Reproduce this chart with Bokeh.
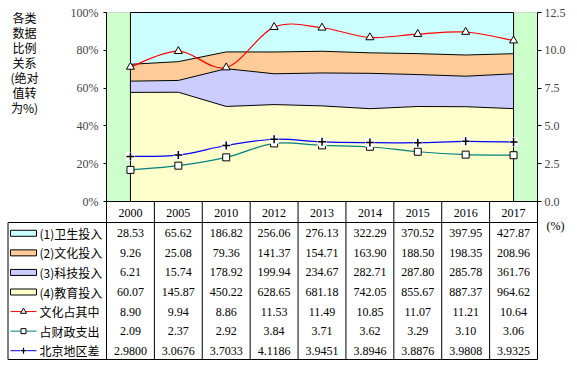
from bokeh.plotting import figure
from bokeh.models import Range1d, LinearAxis, FixedTicker, ColumnDataSource, BoxAnnotation, PrintfTickFormatter
from bokeh.core.properties import value
from bokeh.embed import file_html
from bokeh.resources import INLINE

# ---------------- data ----------------
years = ["2000", "2005", "2010", "2012", "2013", "2014", "2015", "2016", "2017"]
health = [28.53, 65.62, 186.82, 256.06, 276.13, 322.29, 370.52, 397.95, 427.87]
culture = [9.26, 25.08, 79.36, 141.37, 154.71, 163.90, 188.50, 198.35, 208.96]
tech = [6.21, 15.74, 178.92, 199.94, 234.67, 282.71, 287.80, 285.78, 361.76]
edu = [60.07, 145.87, 450.22, 628.65, 681.18, 742.05, 855.67, 887.37, 964.62]
culture_share = [8.90, 9.94, 8.86, 11.53, 11.49, 10.85, 11.07, 11.21, 10.64]
fiscal_share = [2.09, 2.37, 2.92, 3.84, 3.71, 3.62, 3.29, 3.10, 3.06]
beijing_gap = [2.9800, 3.0676, 3.7033, 4.1186, 3.9451, 3.8946, 3.8876, 3.9808, 3.9325]
left_ticks = [0, 20, 40, 60, 80, 100]
right_ticks = [0, 2.5, 5.0, 7.5, 10.0, 12.5]
row_names = ["(1)卫生投入", "(2)文化投入", "(3)科技投入", "(4)教育投入",
             "文化占其中", "占财政支出", "北京地区差"]
y_title = ["各类", "数据", "比例", "关系", "(绝对", "值转", "为%)"]
right_unit = "(%)"

# ---------------- styles / layout (canvas px) ----------------
W, H = 569, 360
PLOT_L, PLOT_R = 106, 537
PLOT_T, PLOT_B = 12, 201
CW = (PLOT_R - PLOT_L) / 9.0
PY = (PLOT_B - PLOT_T) / 100.0
n = len(years)

def xd(px):
    return -0.5 + (px - PLOT_L) / CW

def yd(py):
    return (PLOT_B - py) / PY

x0, x1 = xd(0), xd(W)
y0, y1 = yd(H), yd(0)

SERIF = "Liberation Serif"
CJK = "Noto Sans CJK SC"
area_colors = ["#FFFFCC", "#CCCCFF", "#FFCC99", "#CCFFFF"]   # edu, tech, culture, health
row_fill = ["#CCFFFF", "#FFCC99", "#CCCCFF", "#FFFFCC"]
line_colors = ["#FF0000", "#008080", "#0000FF"]

p = figure(width=W, height=H, x_range=Range1d(x0, x1), y_range=Range1d(y0, y1),
           output_backend="svg", toolbar_location=None,
           x_axis_type=None, y_axis_type=None, min_border=0,
           outline_line_color=None)
p.extra_y_ranges = {"r": Range1d(y0 / 8.0, y1 / 8.0)}

# plot area background
p.add_layout(BoxAnnotation(left=-0.5, right=n - 0.5, bottom=0, top=100,
                           fill_color="#CCFFCC", fill_alpha=1.0,
                           line_color="#808080", line_width=1, level="underlay"))

# ---------------- stacked 100% areas ----------------
xs = list(range(n))
tot = [a + b + c + d for a, b, c, d in zip(health, culture, tech, edu)]
src = ColumnDataSource(dict(
    x=xs,
    edu=[v / t * 100 for v, t in zip(edu, tot)],
    tech=[v / t * 100 for v, t in zip(tech, tot)],
    cult=[v / t * 100 for v, t in zip(culture, tot)],
    health=[v / t * 100 for v, t in zip(health, tot)],
))
stackers = ["edu", "tech", "cult", "health"]
p.varea_stack(stackers, x="x", color=area_colors, source=src)
p.vline_stack(stackers, x="x", color="black", line_width=1, source=src)
p.segment(x0=[xs[0], xs[-1]], y0=[0, 0], x1=[xs[0], xs[-1]], y1=[100, 100],
          line_color="black", line_width=1)

# ---------------- smoothed lines (secondary axis) ----------------
def bez(ys):
    P = list(zip(xs, ys))
    out = dict(x0=[], y0=[], x1=[], y1=[], cx0=[], cy0=[], cx1=[], cy1=[])
    for i in range(len(P) - 1):
        pm = P[i - 1] if i > 0 else P[i]
        pa, pb = P[i], P[i + 1]
        pn = P[i + 2] if i + 2 < len(P) else P[i + 1]
        out["x0"].append(pa[0]); out["y0"].append(pa[1])
        out["x1"].append(pb[0]); out["y1"].append(pb[1])
        out["cx0"].append(pa[0] + (pb[0] - pm[0]) / 6.0)
        out["cy0"].append(pa[1] + (pb[1] - pm[1]) / 6.0)
        out["cx1"].append(pb[0] - (pn[0] - pa[0]) / 6.0)
        out["cy1"].append(pb[1] - (pn[1] - pa[1]) / 6.0)
    return out

for ys, col in zip([culture_share, fiscal_share, beijing_gap], line_colors):
    p.bezier(source=ColumnDataSource(bez(ys)), x0="x0", y0="y0", x1="x1", y1="y1",
             cx0="cx0", cy0="cy0", cx1="cx1", cy1="cy1",
             line_color=col, line_width=1.2, y_range_name="r")

p.scatter(xs, culture_share, marker="triangle", size=8, fill_color="white",
          line_color="black", line_width=1, y_range_name="r")
p.scatter(xs, fiscal_share, marker="square", size=7, fill_color="white",
          line_color="black", line_width=1, y_range_name="r")
p.scatter(xs, beijing_gap, marker="square", size=9, fill_color="white",
          line_color=None, y_range_name="r")
p.scatter(xs, beijing_gap, marker="cross", size=8, line_color="black",
          line_width=1.5, y_range_name="r")

# ---------------- axes ----------------
lax = LinearAxis(fixed_location=-0.5, ticker=FixedTicker(ticks=left_ticks),
                 bounds=(0, 100), formatter=PrintfTickFormatter(format="%d%%"))
lax.major_tick_out = 3
lax.major_tick_in = 0
lax.minor_tick_line_color = None
lax.major_label_standoff = 5
lax.major_label_text_font = SERIF
lax.major_label_text_font_size = "12px"
lax.axis_line_color = "black"
p.add_layout(lax, "left")

rax = LinearAxis(y_range_name="r", fixed_location=n - 0.5,
                 ticker=FixedTicker(ticks=right_ticks), bounds=(0, 12.5),
                 formatter=PrintfTickFormatter(format="%.1f"))
rax.major_tick_out = 4
rax.major_tick_in = 0
rax.minor_tick_line_color = None
rax.major_label_standoff = 3
rax.major_label_text_font = SERIF
rax.major_label_text_font_size = "12px"
p.add_layout(rax, "right")

# y title
p.text(x=[xd(24)] * len(y_title), y=[yd(17 + 15 * i) for i in range(len(y_title))],
       text=y_title, text_font=value(CJK), text_font_size="12px",
       text_align="center", text_baseline="middle", text_color="black")
p.text(x=[xd(555)], y=[yd(225)], text=[right_unit], text_font=value(SERIF),
       text_font_size="12px", text_align="center", text_baseline="middle")

# ---------------- data table ----------------
HDR_B = 222
TBL_B = 359
ROW_H = (TBL_B - HDR_B) / 7.0
LEG_L = 7.5
vx = [i - 0.5 for i in range(n + 1)]
p.segment(x0=vx, y0=[0] * len(vx), x1=vx, y1=[yd(TBL_B)] * len(vx),
          line_color="black", line_width=1)
p.segment(x0=[-0.5, xd(LEG_L), xd(LEG_L), xd(LEG_L)],
          y0=[0, yd(HDR_B), yd(TBL_B), yd(HDR_B)],
          x1=[n - 0.5, n - 0.5, n - 0.5, xd(LEG_L)],
          y1=[0, yd(HDR_B), yd(TBL_B), yd(TBL_B)],
          line_color="black", line_width=1)

p.text(x=xs, y=[yd((PLOT_B + HDR_B) / 2.0 + 1)] * n, text=years, text_font=value(SERIF),
       text_font_size="12px", text_align="center", text_baseline="middle")

rows = [health, culture, tech, edu, culture_share, fiscal_share, beijing_gap]
fmts = ["%.2f"] * 6 + ["%.4f"]
rc = [yd(HDR_B + ROW_H * r + ROW_H / 2 + 1) for r in range(7)]
for r, (vals, f) in enumerate(zip(rows, fmts)):
    p.text(x=xs, y=[rc[r]] * n, text=[f % v for v in vals], text_font=value(SERIF),
           text_font_size="12px", text_align="center", text_baseline="middle")

p.text(x=[xd(39)] * 7, y=rc, text=row_names, text_font=value(CJK), text_font_size="12px",
       text_align="left", text_baseline="middle")
p.quad(left=[xd(10)] * 4, right=[xd(36)] * 4,
       top=[c + 3 / PY for c in rc[:4]], bottom=[c - 3 / PY for c in rc[:4]],
       fill_color=row_fill, line_color="black", line_width=1)
p.segment(x0=[xd(10)] * 3, x1=[xd(36)] * 3, y0=rc[4:], y1=rc[4:],
          line_color=line_colors, line_width=1)
p.scatter([xd(23)], [rc[4]], marker="triangle", size=6, fill_color="white", line_color="black")
p.scatter([xd(23)], [rc[5]], marker="square", size=5, fill_color="white", line_color="black")
p.scatter([xd(23)], [rc[6]], marker="square", size=7, fill_color="white", line_color=None)
p.scatter([xd(23)], [rc[6]], marker="cross", size=6, line_color="black", line_width=1.2)

open("out.html", "w").write(file_html(p, INLINE))
